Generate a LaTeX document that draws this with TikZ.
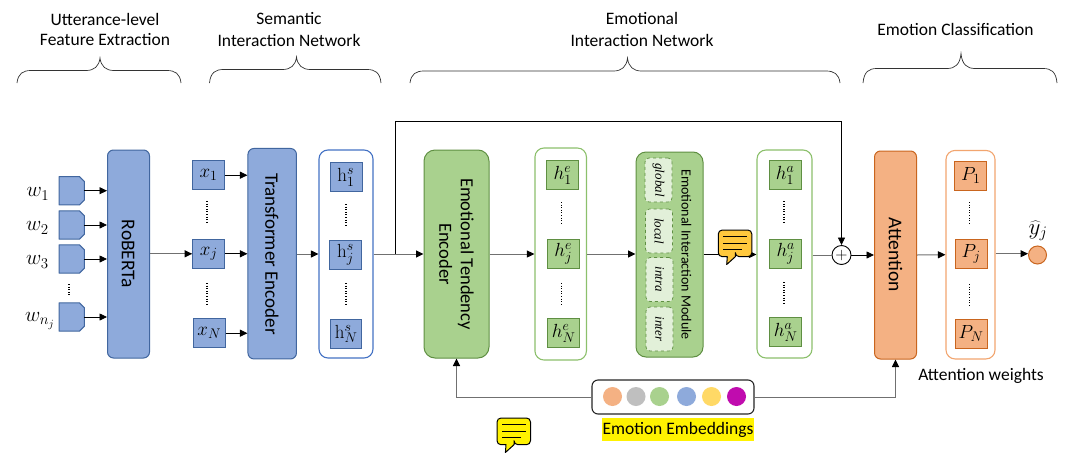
\RequirePackage{fix-cm}
\documentclass[tikz,border=0pt]{standalone}
\usepackage[no-math]{fontspec}
\setmainfont{Carlito}
\newfontfamily\serifit{Liberation Serif}
\DeclareMathSizes{19}{19}{14}{10}
\DeclareMathSizes{21}{21}{15}{11}
\DeclareMathSizes{23}{23}{16}{12}
\usetikzlibrary{arrows.meta}
\definecolor{bluef}{HTML}{8EAADB}\definecolor{blued}{HTML}{41669F}\definecolor{bluel}{HTML}{4472C4}
\definecolor{greenf}{HTML}{A9D18E}\definecolor{greend}{HTML}{5F8F42}\definecolor{greenl}{HTML}{8CC06C}
\definecolor{orf}{HTML}{F4B183}\definecolor{ord}{HTML}{C9651E}\definecolor{orl}{HTML}{F2A56F}
\definecolor{innerf}{HTML}{E2F0D9}\definecolor{lineg}{HTML}{707070}
\definecolor{noteor}{HTML}{FFC83D}\definecolor{goldc}{HTML}{FFD966}\definecolor{magc}{HTML}{C00CAE}
\tikzset{
 x=1pt,y=-1pt,
 bb/.style={rectangle,rounded corners=#1,inner sep=0pt,line width=1pt,align=center},
 bluebox/.style={bb=6pt,draw=blued,fill=bluef},
 greenbox/.style={bb=8pt,draw=greend,fill=greenf},
 orbox/.style={bb=6pt,draw=ord,fill=orf},
 outerbox/.style={bb=9pt,fill=white,line width=1.1pt},
 small/.style={rectangle,inner sep=0pt,line width=1pt,minimum width=32pt,minimum height=29pt,font=\fontsize{19}{19}\selectfont},
 sb/.style={small,draw=blued,fill=bluef},
 sg/.style={small,draw=greend,fill=greenf},
 so/.style={small,draw=ord,fill=orf},
 wbox/.style={rectangle,inner sep=0pt,minimum width=25pt,minimum height=28pt},
 wshape/.style={draw=blued,fill=bluef,line width=1pt,line join=round},
 inner/.style={rectangle,rounded corners=4pt,draw=greend,dashed,fill=innerf,line width=.7pt,minimum width=27pt,minimum height=44pt,inner sep=0pt},
 vtext/.style={rotate=-90,font=\fontsize{#1}{#1}\selectfont},
 itext/.style={rotate=-90,font=\fontsize{13}{13}\selectfont\serifit\itshape},
 lab/.style={font=\fontsize{17.5}{17.5}\selectfont,inner sep=0pt},
 wl/.style={font=\fontsize{21}{21}\selectfont,inner sep=0pt},
 arr/.style={draw=black,line width=.8pt,-{Triangle[length=7.5pt,width=7pt]}},
 arrg/.style={draw=lineg,line width=1pt,-{Triangle[length=7.5pt,width=7pt,color=black]}},
 gline/.style={draw=lineg,line width=1pt},
 dots/.style={line width=1.2pt,dash pattern=on 1pt off 1.6pt},
 emb/.style={circle,inner sep=0pt,minimum size=19pt},
 curly/.style={line width=.7pt,draw=black!80},
 notelines/.style={line width=.9pt},
}
\newcommand{\wshapeof}[1]{%
 \path[wshape] (#1.north west) -- ([xshift=-5pt]#1.north east) -- ([yshift=-5pt]#1.north east)
    -- ([yshift=5pt]#1.south east) -- ([xshift=-5pt]#1.south east) -- (#1.south west) -- cycle;}
\newcommand{\curlybrace}[6]{%
 \draw[curly] (#1,#6) .. controls (#1+1,#5+3) and (#1+6,#5) .. (#1+14,#5)
  -- (#2-14,#5) .. controls (#2-6,#5) and (#2-1,#5-4) .. (#2,#4)
  .. controls (#2+1,#5-4) and (#2+6,#5) .. (#2+14,#5)
  -- (#3-14,#5) .. controls (#3-6,#5) and (#3-1,#5+3) .. (#3,#6);}
\newcommand{\speech}[2]{%
 \begin{scope}[shift={(#2)}]
 \path[draw=black,fill=#1,line width=1pt,line join=round,rounded corners=4pt]
   (0,0) -- (33.5,0) -- (33.5,26.7) -- (17,26.7) [sharp corners] -- (17,26.7) -- (8.4,34.5) -- (9,26.7) [rounded corners=4pt] -- (0,26.7) -- cycle;
 \draw[notelines] (5,6.7) -- (29,6.7) (5,13.3) -- (29,13.3) (5,19.3) -- (24,19.3);
 \end{scope}}
\begin{document}
\begin{tikzpicture}
\useasboundingbox (0,0) rectangle (1078,461);
% headers
\node[lab] (t1a) at (105,19) {Utterance-level};
\node[lab] (t1b) at (105,40) {Feature Extraction};
\node[lab] (t2a) at (289,19) {Semantic};
\node[lab] (t2b) at (289,40) {Interaction Network};
\node[lab] (t3a) at (642,18) {Emotional};
\node[lab] (t3b) at (642,40) {Interaction Network};
\node[lab] (t4) at (955.5,29.5) {Emotion Classification};
\curlybrace{17}{100}{181}{58}{70.5}{83}
\curlybrace{209.5}{296.5}{381}{57}{69.5}{83}
\curlybrace{410}{627.5}{840}{58}{71}{83}
\curlybrace{863}{961}{1057}{53.5}{68.5}{83}
% word inputs
\node[wl] (lw1) at (38,194) {$w_1$};
\node[wl] (lw2) at (37.5,228) {$w_2$};
\node[wl] (lw3) at (37.5,262) {$w_3$};
\node[wl] (lw4) at (40,321) {$w_{n_j}$};
\node[wbox] (w1) at (71.7,190.7) {};
\node[wbox] (w2) at (71.7,225) {};
\node[wbox] (w3) at (71.7,259) {};
\node[wbox] (w4) at (71.7,317) {};
\wshapeof{w1}\wshapeof{w2}\wshapeof{w3}\wshapeof{w4}
\draw[dots] (69,284) -- (69,295);
\node[bluebox,minimum width=42pt,minimum height=208pt] (rob) at (128.5,254) {};
\node[vtext=19.5] (robt) at (128,254) {RoBERTa};
% x
\node[sb] (x1) at (208.5,175.2) {$x_1$};
\node[sb] (xj) at (208.7,253.8) {$x_j$};
\node[sb] (xN) at (209.2,333.2) {$x_N$};
\draw[dots] (207,201) -- (207,224) (207,283) -- (207,305);
\node[bluebox,minimum width=48.5pt,minimum height=210.5pt] (te) at (272.2,253.7) {};
\node[vtext=19] (tet) at (272,254) {Transformer Encoder};
% h s
\node[outerbox,draw=bluel,minimum width=54pt,minimum height=208pt] (os) at (346,254) {};
\node[sb] (hs1) at (346,177.2) {$\mathrm{h}_1^{s}$};
\node[sb] (hsj) at (345.5,254.5) {$\mathrm{h}_j^{s}$};
\node[sb,minimum width=30.5pt] (hsN) at (346.2,334) {$\mathrm{h}_N^{s}$};
\draw[dots] (346,204) -- (346,227) (346,283) -- (346,305);
% ETE
\node[greenbox,bb=11pt,minimum width=65pt,minimum height=208pt] (ete) at (456.5,254) {};
\node[vtext=18.5,align=center] (etet) at (456.5,254) {Emotional Tendency\\[3pt]Encoder};
% h e
\node[outerbox,draw=greenl,minimum width=51.5pt,minimum height=212pt] (oe) at (560.7,254) {};
\node[sg] (he1) at (562.7,175.2) {$h_1^{e}$};
\node[sg] (hej) at (563.2,253.5) {$h_j^{e}$};
\node[sg] (heN) at (563.7,333.2) {$h_N^{e}$};
\draw[dots] (561.5,202) -- (561.5,224) (561.5,283) -- (561.5,305);
% EIM
\node[greenbox,bb=10pt,minimum width=67pt,minimum height=205pt] (eim) at (669.5,254.5) {};
\node[inner] (i1) at (658.5,180) {};
\node[inner] (i2) at (659,231) {};
\node[inner] (i3) at (659.5,279.5) {};
\node[inner] (i4) at (659.5,329) {};
\node[itext] (i1t) at (i1) {global};
\node[itext] (i2t) at (i2) {local};
\node[itext] (i3t) at (i3) {intra};
\node[itext] (i4t) at (i4) {inter};
\node[vtext=14] (eimt) at (686.5,254.5) {Emotional Interaction Module};
% h a
\node[outerbox,draw=greenl,minimum width=55pt,minimum height=208pt] (oa) at (784.5,254) {};
\node[sg] (ha1) at (785,175.2) {$h_1^{a}$};
\node[sg] (haj) at (785.7,254) {$h_j^{a}$};
\node[sg] (haN) at (785.7,332.2) {$h_N^{a}$};
\draw[dots] (784,201) -- (784,223) (784,282) -- (784,304);
% plus
\node[circle,draw=black,fill=white,line width=.9pt,minimum size=19pt,inner sep=0pt,font=\fontsize{16}{16}\selectfont] (plus) at (841.5,255) {$+$};
% attention
\node[orbox,minimum width=42pt,minimum height=208pt] (att) at (895.5,255) {};
\node[vtext=19.5] (attt) at (895.5,255) {Attention};
\node[outerbox,draw=orl,minimum width=49pt,minimum height=208.5pt] (op) at (970.5,254.7) {};
\node[so] (p1) at (970.7,175.7) {$P_1$};
\node[so] (pj) at (971.2,253.7) {$P_j$};
\node[so] (pN) at (971.2,333.5) {$P_N$};
\draw[dots] (969.5,202) -- (969.5,224) (969.5,284) -- (969.5,305);
\node[lab] (awt) at (981,376) {Attention weights};
\node[circle,draw=ord,fill=orf,line width=1pt,minimum size=18pt,inner sep=0pt] (yc) at (1037.5,255) {};
\node[font=\fontsize{23}{23}\selectfont,inner sep=0pt] (yl) at (1038,231) {$\widehat{y}_j$};
% embeddings
\node[bb=6pt,draw=black!85,fill=white,line width=1.1pt,minimum width=162pt,minimum height=34pt] (eb) at (673,397) {};
\node[emb,fill=orf] (e1) at (612.5,396.5) {};
\node[emb,fill=black!25] (e2) at (636,396.5) {};
\node[emb,fill=greenf] (e3) at (659.5,396.5) {};
\node[emb,fill=bluef] (e4) at (686.5,396.5) {};
\node[emb,fill=goldc] (e5) at (711.5,396.5) {};
\node[emb,fill=magc] (e6) at (736.5,396.5) {};
\node[lab,fill=yellow,minimum width=152pt,minimum height=23.5pt] (ebt) at (678,429.5) {Emotion Embeddings};
% connectors
\foreach \n in {w1,w2,w3,w4}{\draw[arr] (\n.east) -- (\n.east -| rob.west);}
\foreach \n in {x1,xj,xN}{\draw[arr] (\n.east) -- (\n.east -| te.west);}
\draw[arrg] (rob.east |- xj) -- (xj.west);
\draw[arrg] (te.east |- os) -- (os.west);
\coordinate (br) at (395,254);
\coordinate (tp) at (841.5,121);
\draw[gline] (os.east) -- (br);
\draw[arr] (br) |- (tp) -- (plus.north);
\draw[arrg] (br) -- (ete.west);
\draw[arrg] (ete.east) -- (oe.west);
\draw[arrg] (oe.east) -- (eim.west |- oe);
\draw[arr] (eim.east) -- (eim.east -| oa.west);
\draw[gline] (oa.east |- plus) -- (plus.west);
\draw[arr] (plus.east) -- (att.west);
\draw[arrg] (att.east) -- (op.west);
\draw[arrg] (op.east |- pj) -- (yc.west |- pj);
\draw[arrg] (eb.west) -| (ete.south);
\draw[arrg] (eb.east) -| (att.south);
\speech{noteor}{718.3,230}
\speech{yellow}{497,418}
\end{tikzpicture}
\end{document}
